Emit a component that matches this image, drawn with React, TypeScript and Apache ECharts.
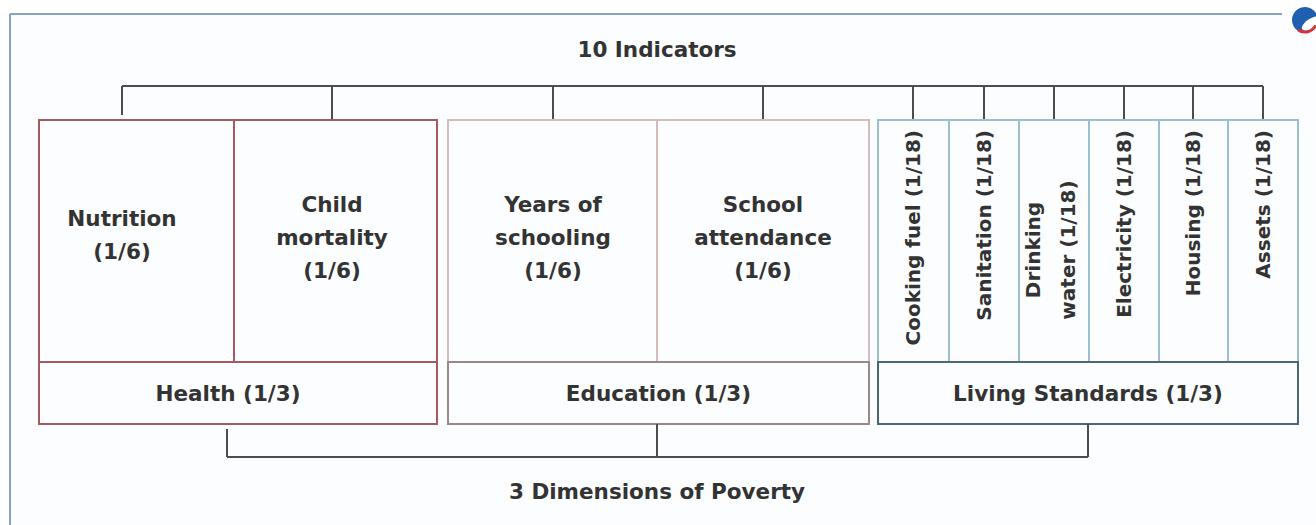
import React, { useEffect, useRef } from "react";
import * as echarts from "echarts";

// ---- Data ----
const topTitle = "10 Indicators";
const bottomTitle = "3 Dimensions of Poverty";
const dimensions = ["Health (1/3)", "Education (1/3)", "Living Standards (1/3)"];
const healthIndicators = ["Nutrition\n(1/6)", "Child\nmortality\n(1/6)"];
const educationIndicators = ["Years of\nschooling\n(1/6)", "School\nattendance\n(1/6)"];
const livingIndicators = [
  "Cooking fuel (1/18)",
  "Sanitation (1/18)",
  "Drinking\nwater (1/18)",
  "Electricity (1/18)",
  "Housing (1/18)",
  "Assets (1/18)",
];

const FONT = "'DejaVu Sans', 'Open Sans', sans-serif";
const TEXT = "#333333";
const LINE = "#4d4d4d";

export default function App() {
  const ref = useRef<HTMLDivElement>(null);
  useEffect(() => {
    if (!ref.current) return;
    const chart = echarts.init(ref.current, null, { renderer: "svg" });

    const els: any[] = [];
    const line = (x1: number, y1: number, x2: number, y2: number, color = LINE, w = 2) =>
      els.push({ type: "line", shape: { x1, y1, x2, y2 }, style: { stroke: color, lineWidth: w } });
    const rect = (x: number, y: number, w: number, h: number, color: string) =>
      els.push({ type: "rect", shape: { x, y, width: w, height: h }, style: { fill: "rgba(0,0,0,0)", stroke: color, lineWidth: 2 } });
    const text = (t: string, x: number, y: number, size: number, extra: any = {}) =>
      els.push({
        type: "text",
        x,
        y,
        rotation: extra.rotation || 0,
        style: {
          text: t,
          fill: TEXT,
          font: `700 ${size}px ${FONT}`,
          align: extra.align || "center",
          verticalAlign: "middle",
          lineHeight: extra.lineHeight || 33,
        },
      });

    const H = 21.5; // horizontal text size
    const V = 20; // vertical text size

    // Frame
    els.push({ type: "rect", shape: { x: 10, y: 14, width: 1320, height: 530 }, style: { fill: "#fcfdfe" } });
    line(10, 14, 1282, 14, "#84a2cb", 2);
    line(10, 14, 10, 525, "#84a2cb", 2);

    // Logo
    els.push({ type: "circle", shape: { cx: 1305, cy: 21, r: 13 }, style: { fill: "#ffffff" } });
    els.push({ type: "circle", shape: { cx: 1305, cy: 20, r: 13 }, style: { fill: "#1f5fb0" } });
    els.push({ type: "ellipse", shape: { cx: 1311, cy: 24, rx: 11, ry: 5 }, rotation: 0.55, originX: 1311, originY: 24, style: { fill: "#ffffff" } });
    els.push({ type: "arc", shape: { cx: 1305, cy: 20, r: 12, startAngle: Math.PI * 0.15, endAngle: Math.PI * 0.7 }, style: { stroke: "#d6323a", lineWidth: 3, fill: "none" } });

    // Geometry
    const boxTop = 120, midY = 362, boxBottom = 424;
    const health = { x0: 39, x1: 437, div: [234], centers: [122, 332], color: "#a45a5e", bottomColor: "#a45a5e" };
    const edu = { x0: 448, x1: 869, div: [657], centers: [553, 763], color: "#d4bcbc", bottomColor: "#9a8888" };
    const liv = { x0: 878, x1: 1298, div: [949, 1019, 1089, 1159, 1228], color: "#9dbdd0", bottomColor: "#4d6676" };
    const livCenters = [913, 984, 1054, 1124, 1193, 1263];

    // Titles
    text(topTitle, 657, 49, H);
    text(bottomTitle, 657, 491, H);

    // Top bracket
    const topY = 86;
    line(122, topY, 1263, topY);
    line(122, topY, 122, 115);
    [332, 553, 763, ...livCenters].forEach((x) => line(x, topY, x, boxTop));

    // Health
    rect(health.x0, boxTop, health.x1 - health.x0, midY - boxTop, health.color);
    health.div.forEach((x) => line(x, boxTop, x, midY, health.color));
    rect(health.x0, midY, health.x1 - health.x0, boxBottom - midY, health.bottomColor);
    healthIndicators.forEach((t, i) => text(t, health.centers[i], i === 0 ? 235 : 237, H));
    text(dimensions[0], (health.x0 + health.x1) / 2 - 10, 393, H);

    // Education
    rect(edu.x0, boxTop, edu.x1 - edu.x0, midY - boxTop, edu.color);
    edu.div.forEach((x) => line(x, boxTop, x, midY, edu.color));
    rect(edu.x0, midY, edu.x1 - edu.x0, boxBottom - midY, edu.bottomColor);
    educationIndicators.forEach((t, i) => text(t, edu.centers[i], 237, H));
    text(dimensions[1], (edu.x0 + edu.x1) / 2, 393, H);

    // Living standards
    rect(liv.x0, boxTop, liv.x1 - liv.x0, midY - boxTop, liv.color);
    liv.div.forEach((x) => line(x, boxTop, x, midY, liv.color));
    rect(liv.x0, midY, liv.x1 - liv.x0, boxBottom - midY, liv.bottomColor);
    livingIndicators.forEach((t, i) => {
      if (t.includes("\n")) {
        text(t, livCenters[i] - 4, 250, V, { rotation: Math.PI / 2, align: "center", lineHeight: 35 });
      } else {
        text(t, livCenters[i], 130, V, { rotation: Math.PI / 2, align: "right" });
      }
    });
    text(dimensions[2], (liv.x0 + liv.x1) / 2, 393, H);

    // Bottom bracket
    const botY = 457;
    line(227, botY, 1088, botY);
    line(227, 429, 227, botY);
    line(657, boxBottom, 657, botY);
    line(1088, boxBottom, 1088, botY);

    chart.setOption({ animation: false, graphic: { elements: els } });
    return () => chart.dispose();
  }, []);

  return (
    <div
      ref={ref}
      style={{ position: "fixed", left: 0, top: 0, width: 1316, height: 525, background: "#ffffff" }}
    />
  );
}
